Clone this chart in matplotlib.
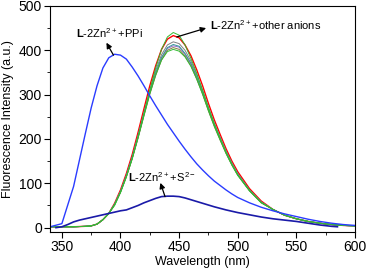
import numpy as np
import matplotlib.pyplot as plt
from matplotlib.ticker import MultipleLocator

plt.rcParams['font.family'] = ['Liberation Sans', 'DejaVu Sans']
plt.rcParams['mathtext.fontset'] = 'custom'
plt.rcParams['mathtext.rm'] = 'Liberation Sans'
plt.rcParams['mathtext.bf'] = 'Liberation Sans:bold'

# wavelength grid (nm)
wl = [340, 350, 360, 370, 375, 380, 385, 390, 395, 400, 405, 410, 415, 420, 425,
      430, 435, 440, 445, 450, 455, 460, 465, 470, 475, 480, 485, 490, 495, 500,
      510, 520, 530, 540, 550, 560, 570, 580, 590, 600]

# L-2Zn2+ + PPi
ppi = [2, 9, 93, 212, 270, 320, 360, 383, 391, 389, 380, 362, 342, 320, 297,
       275, 254, 233, 214, 195, 177, 160, 144, 130, 117, 105, 95, 85, 76, 68,
       56, 46, 38, 31, 25, 19, 14, 10, 7, 5]

# L-2Zn2+ + S2- (trace stops near 585 nm)
wl_s = [345, 350, 355, 360, 365, 370, 375, 380, 385, 390, 395, 400, 405, 410,
        415, 420, 425, 430, 435, 440, 445, 450, 455, 460, 470, 480, 490, 500,
        510, 520, 530, 540, 550, 560, 570, 580, 585]
s2 = [0, 2, 7, 13, 17, 20, 23, 26, 29, 32, 35, 38, 40, 45, 50, 56, 61, 66, 70,
      71, 71, 70, 67, 63, 55, 47, 40, 34, 29, 24, 20, 17, 14, 10, 6, 3, 2]

# L-2Zn2+ + other anions: shared low / high ends, individual middle parts (395-520 nm)
lo_part = [2, 2, 2, 3, 4, 8, 18, 32]
hi_part = [41, 28, 20, 14, 10, 7, 5, 4]
red_mid = [55, 85, 122, 165, 215, 268, 320, 365, 402, 425, 433, 428, 412, 388, 356,
           320, 280, 243, 210, 178, 150, 126, 88, 60]
gray_mid = [53, 82, 118, 160, 209, 260, 310, 354, 390, 412, 419, 415, 400, 376, 345,
            310, 272, 236, 204, 173, 146, 122, 85, 58]
purple_mid = [52, 81, 116, 157, 204, 255, 304, 347, 382, 404, 410, 407, 391, 369, 338,
              304, 266, 231, 200, 169, 143, 120, 84, 57]
teal_mid = [53, 81, 117, 158, 205, 256, 306, 349, 384, 406, 413, 409, 393, 371, 340,
            306, 267, 232, 201, 170, 143, 120, 84, 57]
olive_mid = [52, 80, 115, 155, 202, 252, 301, 343, 378, 400, 406, 402, 387, 365, 335,
             301, 263, 228, 197, 167, 141, 118, 83, 56]
green1_mid = [50, 79, 114, 156, 205, 257, 310, 360, 402, 430, 440, 434, 412, 382, 348,
              310, 270, 234, 201, 170, 143, 119, 84, 57]
green2_mid = [52, 80, 115, 156, 203, 253, 302, 344, 378, 397, 402, 398, 385, 364, 335,
              301, 264, 229, 198, 168, 141, 118, 83, 56]

others = [
    (gray_mid, '#808080'),
    (purple_mid, '#9966cc'),
    (teal_mid, '#339999'),
    (olive_mid, '#808040'),
    (green2_mid, '#33bb33'),
    (green1_mid, '#33bb33'),
]

fig = plt.figure(figsize=(3.66, 2.68), dpi=100)
ax = fig.add_axes([0.137, 0.134, 0.833, 0.844])

ax.plot(wl, lo_part + red_mid + hi_part, color='#ff0000', lw=1.0)
for mid, col in others:
    ax.plot(wl, lo_part + mid + hi_part, color=col, lw=0.7)
ax.plot(wl, ppi, color='#2a3cff', lw=1.0)
ax.plot(wl_s, s2, color='#1a1aa8', lw=1.2)

ax.set_xlim(340, 600)
ax.set_ylim(-10, 500)
ax.xaxis.set_major_locator(MultipleLocator(50))
ax.xaxis.set_minor_locator(MultipleLocator(25))
ax.yaxis.set_major_locator(MultipleLocator(100))
ax.yaxis.set_minor_locator(MultipleLocator(50))
ax.tick_params(which='major', direction='out', length=4, labelsize=10, pad=2)
ax.tick_params(which='minor', direction='out', length=2.5)
ax.set_xlabel('Wavelength (nm)', fontsize=9, labelpad=1)
ax.set_ylabel('Fluorescence Intensity (a.u.)', fontsize=9, labelpad=3)

arrow = dict(arrowstyle='-|>', color='black', lw=0.9, mutation_scale=8,
             shrinkA=0, shrinkB=0)
ax.text(391, 439, r'$\mathbf{L}$-2Zn$^{2+}$+PPi', fontsize=8, ha='center', va='center')
ax.annotate('', xy=(388, 417), xytext=(394, 389), arrowprops=arrow)
ax.text(476, 457, r'$\mathbf{L}$-2Zn$^{2+}$+other anions', fontsize=8, va='center')
ax.annotate('', xy=(473, 450), xytext=(448, 430), arrowprops=arrow)
ax.text(435, 115, r'$\mathbf{L}$-2Zn$^{2+}$+S$^{2-}$', fontsize=8, ha='center', va='center')
ax.annotate('', xy=(434, 101), xytext=(438, 70), arrowprops=arrow)

fig.savefig('out.png', dpi=100)
